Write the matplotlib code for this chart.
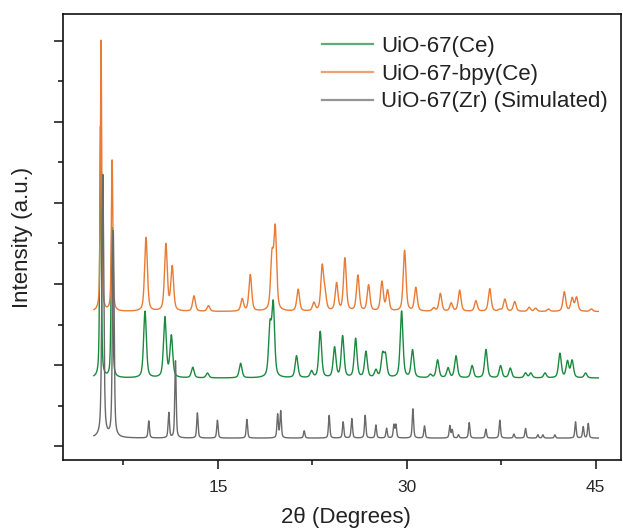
import numpy as np
import matplotlib
matplotlib.use("Agg")
import matplotlib.pyplot as plt

plt.rcParams['font.family'] = ['Liberation Sans', 'DejaVu Sans']

# ---------------- data ----------------
labels = ["UiO-67(Ce)", "UiO-67-bpy(Ce)", "UiO-67(Zr) (Simulated)"]
colors = ["#1a8a40", "#e97b35", "#6a6a6a"]

x_start, x_end = 5.15, 45.2

# UiO-67(Ce) (green)
ce_base = 0.84
ce_pos = [5.68, 6.58, 9.21, 10.79, 11.30, 13.00, 14.17, 16.80, 19.13, 19.39,
          21.24, 22.43, 23.12, 24.26, 24.90, 25.93, 26.75, 27.54, 28.07, 28.30,
          29.58, 30.45, 31.86, 32.44, 33.27, 33.90, 35.18, 36.28, 37.44, 38.21,
          39.42, 39.84, 40.97, 42.15, 42.75, 43.12, 44.19]
ce_top = [3.94, 2.69, 1.66, 1.58, 1.35, 0.97, 0.90, 1.02, 1.44, 1.72,
          1.11, 0.92, 1.41, 1.21, 1.35, 1.32, 1.16, 0.93, 1.11, 1.10,
          1.66, 1.18, 0.88, 1.06, 0.96, 1.11, 0.99, 1.19, 0.99, 0.96,
          0.90, 0.90, 0.90, 1.14, 1.04, 1.05, 0.90]

# UiO-67-bpy(Ce) (orange)
bpy_base = 1.66
bpy_pos = [5.72, 6.60, 9.29, 10.87, 11.37, 13.10, 14.25, 16.93, 17.57, 19.29,
           19.55, 21.37, 22.62, 23.28, 23.50, 24.42, 25.08, 26.11, 26.96, 28.02,
           28.47, 29.82, 30.71, 32.13, 32.66, 33.52, 34.19, 35.48, 36.58, 37.36,
           37.78, 38.56, 39.71, 40.22, 41.24, 42.50, 43.12, 43.47, 44.65]
bpy_top = [5.00, 3.52, 2.57, 2.48, 2.20, 1.85, 1.73, 1.81, 2.11, 2.30,
           2.65, 1.93, 1.76, 2.20, 1.85, 2.00, 2.31, 2.10, 1.98, 2.02,
           1.91, 2.41, 1.95, 1.70, 1.88, 1.76, 1.92, 1.79, 1.94, 1.68,
           1.81, 1.78, 1.71, 1.70, 1.69, 1.90, 1.82, 1.83, 1.69]

# UiO-67(Zr) simulated (gray)
zr_base = 0.10
zr_pos = [5.86, 6.69, 9.51, 11.10, 11.63, 13.37, 14.96, 17.30, 19.74, 19.98,
          21.85, 23.83, 24.94, 25.63, 26.69, 27.54, 28.39, 28.97, 29.13, 30.48,
          31.40, 33.41, 33.60, 34.10, 34.95, 36.27, 37.38, 38.50, 39.42, 40.40,
          40.80, 41.75, 43.39, 44.00, 44.40]
zr_top = [3.34, 2.64, 0.31, 0.41, 1.05, 0.41, 0.32, 0.33, 0.39, 0.43,
          0.19, 0.38, 0.30, 0.34, 0.38, 0.26, 0.22, 0.26, 0.26, 0.46,
          0.25, 0.25, 0.20, 0.14, 0.29, 0.21, 0.32, 0.15, 0.22, 0.14,
          0.14, 0.14, 0.30, 0.24, 0.28]

# peak widths (FWHM, degrees): first two reflections, then the rest
ce_w = (0.14, 0.15, 0.26)
bpy_w = (0.13, 0.14, 0.26)
zr_w = (0.18, 0.16, 0.13)

xticks_major = [15, 30, 45]
xticks_minor = [7.5, 22.5, 37.5]


def pattern(x, pos, top, base, widths, eta=0.5):
    y = np.full_like(x, base)
    for i, (c, t) in enumerate(zip(pos, top)):
        w = widths[i] if i < 2 else widths[2]
        d = x - c
        g = np.exp(-4 * np.log(2) * (d / w) ** 2)
        l = 1.0 / (1.0 + 4 * (d / w) ** 2)
        y += (t - base) * (eta * l + (1 - eta) * g)
    return y


x = np.arange(x_start, x_end, 0.005)

fig = plt.figure(figsize=(6.23, 5.31), dpi=100)
ax = fig.add_axes([63 / 623, (531 - 460) / 531, 558 / 623, 446 / 531])

series = [(ce_pos, ce_top, ce_base, ce_w),
          (bpy_pos, bpy_top, bpy_base, bpy_w),
          (zr_pos, zr_top, zr_base, zr_w)]
for (p, t, b, w), lab, col in zip(series, labels, colors):
    ax.plot(x, pattern(x, p, t, b, w), color=col, lw=1.0, label=lab)

ax.set_xlim(2.7, 47.0)
ax.set_ylim(-0.17, 5.33)
ax.set_xticks(xticks_major)
ax.set_xticks(xticks_minor, minor=True)
ax.set_yticks(np.arange(0, 6, 1))
ax.set_yticks(np.arange(0.5, 5, 1), minor=True)
ax.set_yticklabels([])
for s in ax.spines.values():
    s.set_linewidth(1.2)
    s.set_color('#111111')
ax.tick_params(which='major', direction='out', length=6.5, width=1.2,
               labelsize=12.5, pad=8, colors='#222222', labelcolor='#2a2a2a')
ax.tick_params(which='minor', direction='out', length=3.3, width=1.2,
               colors='#222222')

ax.set_xlabel("2θ (Degrees)", fontsize=16, color='#222222')
ax.xaxis.set_label_coords(0.507, -0.105)
ax.set_ylabel("Intensity (a.u.)", fontsize=16, color='#222222')
ax.yaxis.set_label_coords(-0.054, 0.5)

leg = ax.legend(loc='upper left', bbox_to_anchor=(322 / 623, (531 - 36) / 531),
                bbox_transform=fig.transFigure, frameon=False, fontsize=16,
                handlelength=2.3, handletextpad=0.35, labelspacing=0.3,
                borderpad=0, borderaxespad=0)
for t in leg.get_texts():
    t.set_color('#222222')
for h in leg.get_lines():
    h.set_linewidth(1.6)
    h.set_alpha(0.7)

fig.savefig("out.png", dpi=100)
